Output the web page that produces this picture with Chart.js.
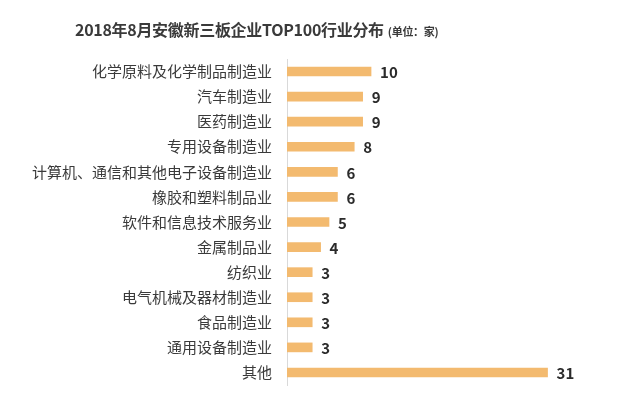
<!DOCTYPE html>
<html>
<head>
<meta charset="utf-8">
<script src="https://cdn.jsdelivr.net/npm/chart.js@4"></script>
<style>
  body { margin: 0; background: #fff; }
  #wrap { position: relative; width: 640px; height: 399px; }
  #title {
    position: absolute; left: 75px; top: 17px;
    font-family: "Noto Sans CJK SC", sans-serif; font-weight: bold;
    font-size: 16px; color: #3a3a3a; white-space: nowrap; letter-spacing: -0.3px;
  }
  #title span { font-size: 11px; font-weight: bold; margin-left: 4px; }
</style>
</head>
<body>
<div id="wrap">
  <canvas id="chart" width="640" height="399"></canvas>
  <div id="title">2018年8月安徽新三板企业TOP100行业分布<span>(单位：家)</span></div>
</div>
<script>
const categories = [
  "化学原料及化学制品制造业", "汽车制造业", "医药制造业", "专用设备制造业",
  "计算机、通信和其他电子设备制造业", "橡胶和塑料制品业", "软件和信息技术服务业",
  "金属制品业", "纺织业", "电气机械及器材制造业", "食品制造业", "通用设备制造业", "其他"
];
const counts = [10, 9, 9, 8, 6, 6, 5, 4, 3, 3, 3, 3, 31];

const FONT = "'Noto Sans CJK SC', sans-serif";

/* value labels at bar ends */
const valueLabels = {
  id: "valueLabels",
  afterDatasetsDraw(chart) {
    const ctx = chart.ctx;
    const meta = chart.getDatasetMeta(0);
    ctx.save();
    ctx.font = "bold 15px " + FONT;
    ctx.fillStyle = "#2b2b2b";
    ctx.textAlign = "left";
    ctx.textBaseline = "middle";
    meta.data.forEach((bar, i) => {
      ctx.fillText(String(counts[i]), bar.x + 9, bar.y + 1);
    });
    ctx.restore();
  }
};

new Chart(document.getElementById("chart"), {
  type: "bar",
  data: {
    labels: categories,
    datasets: [{
      data: counts,
      backgroundColor: "#F3BA6F",
      barThickness: 9
    }]
  },
  options: {
    indexAxis: "y",
    responsive: false,
    animation: false,
    layout: { padding: { top: 59, bottom: 14, left: 0, right: 0 } },
    plugins: { legend: { display: false }, tooltip: { enabled: false } },
    scales: {
      x: { display: false, min: 0, max: 42 },
      y: {
        afterFit(scale) {
          scale.width = 287;
          scale.paddingTop = 0;
          scale.paddingBottom = 0;
        },
        grid: { display: false, drawTicks: false },
        border: { display: true, color: "#d9d9d9", width: 1 },
        ticks: {
          padding: 15,
          color: "#3a3a3a",
          font: { family: FONT, size: 15 }
        }
      }
    }
  },
  plugins: [valueLabels]
});
</script>
</body>
</html>
